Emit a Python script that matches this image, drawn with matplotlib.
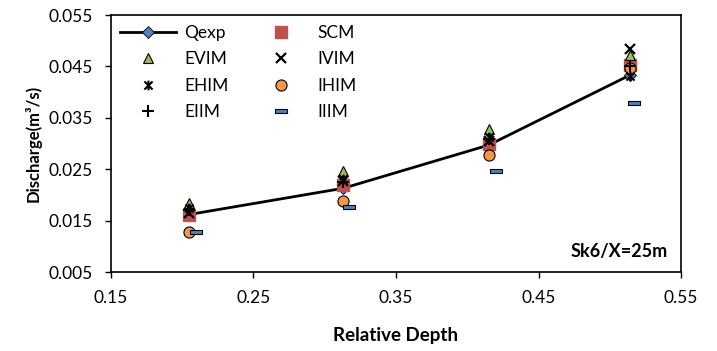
import matplotlib
matplotlib.use("Agg")
import matplotlib.pyplot as plt
from matplotlib.path import Path
import numpy as np

plt.rcParams['font.family'] = ['Lato', 'DejaVu Sans']

depth = [0.205, 0.313, 0.415, 0.514]
depth_iiim = [0.210, 0.317, 0.420, 0.517]
qexp = [0.0162, 0.0213, 0.0297, 0.0433]
scm = [0.0160, 0.0220, 0.0300, 0.0453]
evim = [0.0184, 0.0246, 0.0328, 0.0472]
ivim = [0.0165, 0.0228, 0.0305, 0.0484]
ehim = [0.0175, 0.0232, 0.0312, 0.0432]
ihim = [0.0128, 0.0188, 0.0278, 0.0447]
eiim = [0.0170, 0.0225, 0.0308, 0.0450]
iiim = [0.0128, 0.0177, 0.0246, 0.0378]

xticks = [0.15, 0.25, 0.35, 0.45, 0.55]
yticks = [0.005, 0.015, 0.025, 0.035, 0.045, 0.055]

star = Path([(-1, -1), (1, 1), (-1, 1), (1, -1), (0, -1.2), (0, 1.2)],
            [Path.MOVETO, Path.LINETO, Path.MOVETO, Path.LINETO, Path.MOVETO, Path.LINETO])
dash = Path([(-1, -0.4), (1, -0.4), (1, 0.4), (-1, 0.4), (-1, -0.4)],
            [Path.MOVETO, Path.LINETO, Path.LINETO, Path.LINETO, Path.CLOSEPOLY])

fig = plt.figure(figsize=(7.17, 3.51), dpi=100)
ax = fig.add_axes([0.1548, 0.225, 0.795, 0.732])

ax.plot(depth, qexp, color='black', lw=2, marker='D', ms=6, mfc='#4F81BD', mec='black', mew=0.6, label='Qexp', zorder=3)
ax.plot(depth, evim, ls='none', marker='^', ms=7, mfc='#9BBB59', mec='black', mew=0.8, label='EVIM', zorder=4)
ax.plot(depth, ehim, ls='none', marker=star, ms=7, mfc='none', mec='black', mew=1.5, label='EHIM', zorder=5)
ax.plot(depth, eiim, ls='none', marker='+', ms=8, mec='black', mew=1.5, label='EIIM', zorder=6)
ax.plot(depth, scm, ls='none', marker='s', ms=8, mfc='#C0504D', mec='#C0504D', label='SCM', zorder=3.5)
ax.plot(depth, ivim, ls='none', marker='x', ms=7, mec='black', mew=1.6, label='IVIM', zorder=5)
ax.plot(depth, ihim, ls='none', marker='o', ms=8, mfc='#F79646', mec='black', mew=0.8, label='IHIM', zorder=4)
ax.plot(depth_iiim, iiim, ls='none', marker=dash, ms=8, mfc='#4F81BD', mec='black', mew=0.8, label='IIIM', zorder=4)

ax.set_xlim(0.15, 0.55)
ax.set_ylim(0.005, 0.055)
ax.set_xticks(xticks)
ax.set_xticklabels([f'{v:.2f}' for v in xticks])
ax.set_yticks(yticks)
ax.set_yticklabels([f'{v:.3f}' for v in yticks])
ax.tick_params(direction='out', length=4, width=1, labelsize=12.5, colors='black')
ax.tick_params(axis='x', pad=9)
ax.tick_params(axis='y', pad=9)
for s in ax.spines.values():
    s.set_linewidth(1.2)
    s.set_color('black')

ax.set_xlabel('Relative Depth', fontsize=13.5, fontweight='bold', labelpad=15)
ax.set_ylabel('Discharge(m³/s)', fontsize=12, fontweight='bold', labelpad=5)
ax.text(0.977, 0.078, 'Sk6/X=25m', transform=ax.transAxes, ha='right', va='center',
        fontsize=13, fontweight='bold')

ax.legend(ncol=2, loc='upper left', frameon=False, fontsize=12.5, handlelength=3.2,
          handletextpad=0.5, columnspacing=1.4, labelspacing=0.6, borderaxespad=0.0,
          borderpad=0.2, bbox_to_anchor=(0.01, 0.975))

fig.savefig('out.png', dpi=100)
